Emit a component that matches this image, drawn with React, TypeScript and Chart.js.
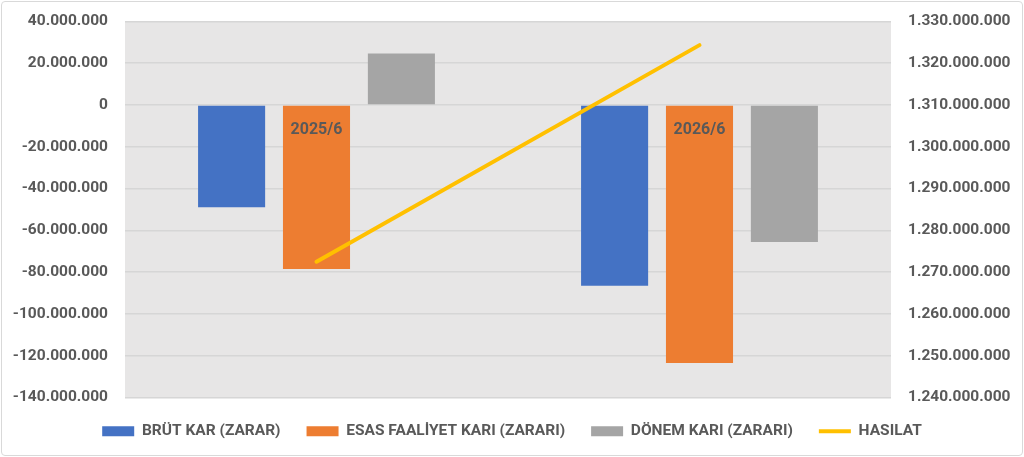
import { useEffect, useRef } from "react";
import { Chart, registerables } from "chart.js";

Chart.register(...registerables);

const categories = ["2025/6", "2026/6"];
const brutKar = [-49000000, -86500000];
const esasFaaliyet = [-78500000, -123500000];
const donemKari = [24600000, -65600000];
const hasilat = [1272500000, 1324300000];

const TEXT = "#595959";
const FONT = "Roboto";

const fmt = (v: number) => {
  const s = Math.abs(Math.round(v)).toString().replace(/\B(?=(\d{3})+(?!\d))/g, ".");
  return (v < 0 ? "-" : "") + s;
};

const plotBg = {
  id: "plotBg",
  beforeDraw(chart: any) {
    const { ctx, chartArea } = chart;
    ctx.save();
    ctx.fillStyle = "#e7e6e6";
    ctx.fillRect(chartArea.left, chartArea.top, chartArea.width, chartArea.height);
    ctx.restore();
  },
};

const App = () => {
  const canvasRef = useRef<HTMLCanvasElement>(null);

  useEffect(() => {
    document.body.style.margin = "0";
    const ctx = canvasRef.current!.getContext("2d")!;

    const chart = new Chart(ctx, {
      type: "bar",
      data: {
        labels: categories,
        datasets: [
          {
            label: "BRÜT KAR (ZARAR)",
            data: brutKar,
            backgroundColor: "#4472c4",
            yAxisID: "y",
            pointStyle: "rect",
            order: 2,
          },
          {
            label: "ESAS FAALİYET KARI (ZARARI)",
            data: esasFaaliyet,
            backgroundColor: "#ed7d31",
            yAxisID: "y",
            pointStyle: "rect",
            order: 2,
          },
          {
            label: "DÖNEM KARI (ZARARI)",
            data: donemKari,
            backgroundColor: "#a5a5a5",
            yAxisID: "y",
            pointStyle: "rect",
            order: 2,
          },
          {
            type: "line",
            label: "HASILAT",
            data: hasilat,
            borderColor: "#ffc000",
            backgroundColor: "#ffc000",
            borderWidth: 4,
            borderCapStyle: "round",
            pointRadius: 0,
            pointStyle: "line",
            yAxisID: "y1",
            order: 1,
          } as any,
        ],
      },
      options: {
        responsive: false,
        animation: false,
        layout: { padding: { top: 5, bottom: 8, left: 0, right: 0 } },
        datasets: {
          bar: { categoryPercentage: 0.665, barPercentage: 0.79 },
        },
        scales: {
          x: {
            position: { y: 0 } as any,
            grid: { display: false },
            border: { display: false },
            ticks: {
              z: 1,
              color: TEXT,
              padding: 7,
              font: { family: FONT, size: 16, weight: "bold" },
            },
          },
          y: {
            position: "left",
            min: -140000000,
            max: 40000000,
            afterFit: (s: any) => {
              s.width = 125;
            },
            grid: { color: "#d6d6d6", lineWidth: 1.5, drawTicks: false },
            border: { display: false },
            ticks: {
              stepSize: 20000000,
              color: TEXT,
              padding: 17,
              font: { family: FONT, size: 15.5, weight: "bold" },
              callback: (v: any) => fmt(Number(v)),
            },
          },
          y1: {
            position: "right",
            min: 1240000000,
            max: 1330000000,
            afterFit: (s: any) => {
              s.width = 133;
            },
            grid: { display: false, drawTicks: false },
            border: { display: false },
            ticks: {
              stepSize: 10000000,
              color: TEXT,
              padding: 17,
              font: { family: FONT, size: 15.5, weight: "bold" },
              callback: (v: any) => fmt(Number(v)),
            },
          },
        },
        plugins: {
          legend: {
            position: "bottom",
            labels: {
              usePointStyle: true,
              pointStyleWidth: 32,
              boxHeight: 10,
              padding: 26,
              color: TEXT,
              font: { family: FONT, size: 15.5, weight: "bold" },
              sort: (a: any, b: any) => a.datasetIndex - b.datasetIndex,
            },
          },
          tooltip: { enabled: false },
        },
      },
      plugins: [plotBg],
    });

    return () => {
      chart.destroy();
    };
  }, []);

  return (
    <div
      style={{
        position: "fixed",
        left: 0,
        top: 0,
        width: 1024,
        height: 457,
        background: "#fff",
        overflow: "hidden",
      }}
    >
      <canvas
        ref={canvasRef}
        width={1024}
        height={462}
        style={{ display: "block", position: "absolute", left: 0, top: -5 }}
      />
      <div
        style={{
          position: "absolute",
          left: 1,
          top: 1,
          width: 1020,
          height: 453,
          border: "1px solid #d9d9d9",
          borderRadius: 4,
          pointerEvents: "none",
        }}
      />
    </div>
  );
};

export default App;
